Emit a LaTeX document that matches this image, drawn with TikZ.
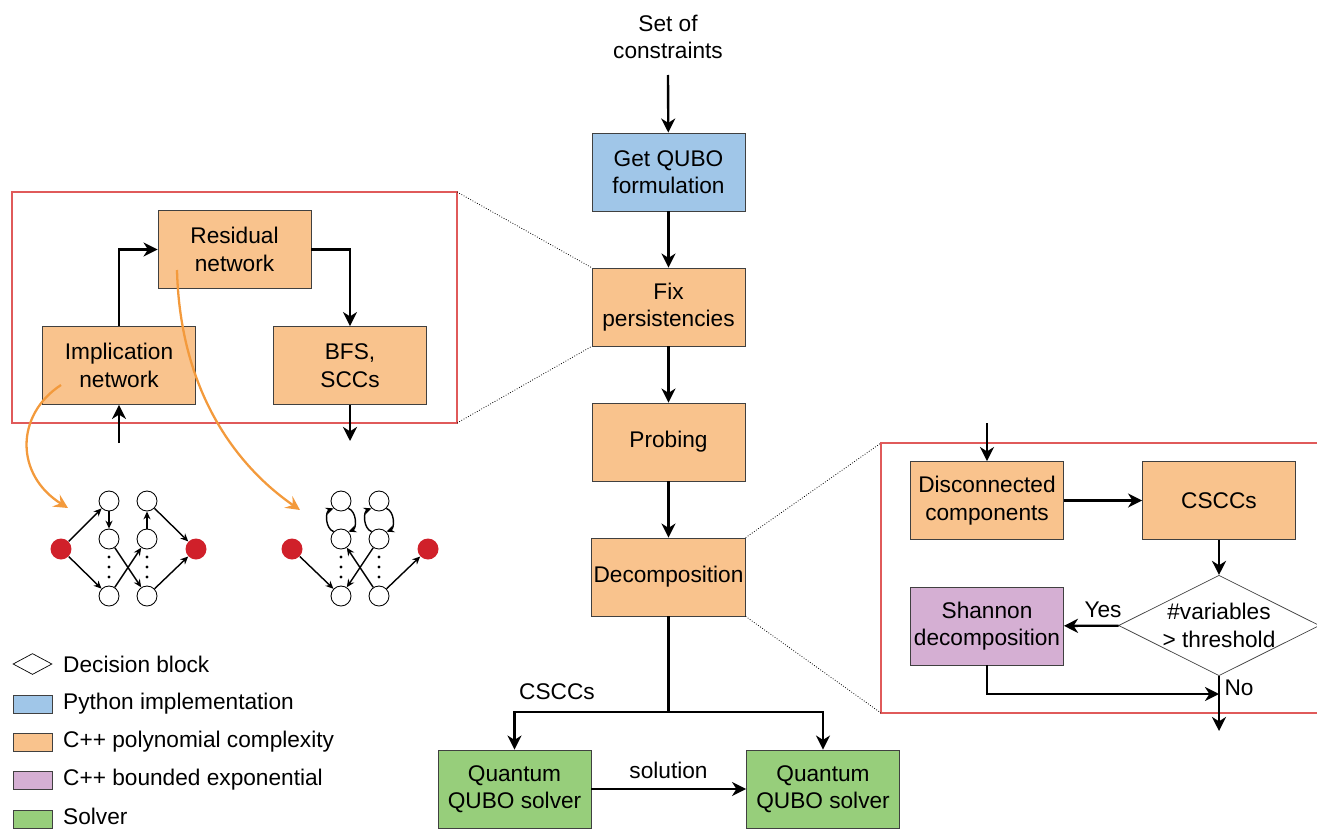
\documentclass[tikz,border=0pt]{standalone}
\usepackage{fontspec}
\setmainfont{Liberation Sans}
\usetikzlibrary{arrows.meta, positioning, shapes.geometric}

\definecolor{pyblue}{HTML}{A0C6E8}
\definecolor{cppoly}{HTML}{F9C38D}
\definecolor{cppexp}{HTML}{D5AFD3}
\definecolor{solvergreen}{HTML}{97CE7B}
\definecolor{frame}{HTML}{E05A5A}
\definecolor{linkorange}{HTML}{F39A3C}
\definecolor{vertred}{HTML}{D0202A}

\begin{document}
\begin{tikzpicture}[x=0.02cm, y=-0.02cm, font=\fontsize{12.9}{15.6}\selectfont]

  \useasboundingbox (0,0) rectangle (1317,828);

  % Define styles
  \tikzstyle{box} = [rectangle, draw=black!75, line width=0.5pt, minimum width=3.06cm, minimum height=1.56cm, align=center, inner sep=1pt]
  \tikzstyle{python} = [box, fill=pyblue]
  \tikzstyle{poly} = [box, fill=cppoly]
  \tikzstyle{bounded} = [box, fill=cppexp]
  \tikzstyle{solver} = [box, fill=solvergreen]
  \tikzstyle{decision} = [diamond, draw=black!75, aspect=2, minimum width=3.84cm, minimum height=1.9cm, inner sep=0pt, align=center]
  \tikzstyle{arr} = [draw, line width=1.35pt, -{Stealth[length=8pt, width=8pt, inset=2.5pt]}]
  \tikzstyle{zoomframe} = [draw=frame, line width=0.6pt]
  \tikzstyle{zoomline} = [draw, densely dotted, line width=0.45pt]
  \tikzstyle{link} = [draw=linkorange, line width=1.3pt, -{Stealth[length=8pt, width=8pt, inset=3pt]}]
  \tikzstyle{vert} = [circle, draw, fill=white, minimum size=0.4cm, inner sep=0pt, line width=0.5pt]
  \tikzstyle{term} = [circle, fill=vertred, minimum size=0.42cm, inner sep=0pt]
  \tikzstyle{gedge} = [draw, line width=0.8pt, -{Stealth[length=4.5pt, width=4pt]}]
  \tikzstyle{legbox} = [rectangle, draw=black!75, minimum width=0.78cm, minimum height=0.36cm, inner sep=0pt]

  % Main flow
  \node[align=center] (cons) at (668, 37) {Set of\\constraints};
  \coordinate (consout) at (668, 75);
  \node[python] (qubo) at (668.5, 172) {Get QUBO\\formulation};
  \node[poly] (fix) at (668.5, 307) {Fix\\persistencies};
  \node[poly] (probe) at (668.5, 442) {Probing};
  \node[poly] (decomp) at (668.5, 577) {Decomposition};
  \node[solver] (qsolA) at (514.5, 789) {Quantum\\QUBO solver};
  \node[solver] (qsolB) at (823, 789) {Quantum\\QUBO solver};

  \draw[arr] (consout) -- (qubo);
  \draw[arr] (qubo) -- (fix);
  \draw[arr] (fix) -- (probe);
  \draw[arr] (probe) -- (decomp);

  \coordinate (split) at (668.5, 712);
  \draw[line width=1.35pt] (decomp.south) -- (split);
  \draw[arr] (split) -| (qsolA.north);
  \draw[arr] (split) -| (qsolB.north);
  \node (csccs) at (557, 692) {CSCCs};

  \draw[arr] (qsolA) -- (qsolB);
  \node (sol) at (668.5, 770) {solution};

  % Persistency zoom
  \coordinate (pframeA) at (12, 192);
  \coordinate (pframeB) at (457, 423);
  \draw[zoomframe] (pframeA) rectangle (pframeB);
  \draw[zoomline] (pframeB |- pframeA) -- (fix.north west);
  \draw[zoomline] (pframeB) -- (fix.south west);

  \node[poly] (resid) at (234.5, 249.5) {Residual\\network};
  \node[poly] (impl) at (119, 365.5) {Implication\\network};
  \node[poly] (bfs) at (350, 365.5) {BFS,\\SCCs};

  \coordinate (implin) at (119, 443);
  \coordinate (bfsout) at (350, 441);
  \draw[arr] (implin) -- (impl);
  \draw[arr] (impl.north) |- (resid.west);
  \draw[arr] (resid.east) -| (bfs.north);
  \draw[arr] (bfs) -- (bfsout);

  % Implication network graph
  \node[term] (is) at (61, 549) {};
  \node[vert] (ia1) at (109, 501) {};
  \node[vert] (ia2) at (109, 539) {};
  \node[vert] (ia3) at (109, 596) {};
  \node[vert] (ib1) at (147, 501) {};
  \node[vert] (ib2) at (147, 539) {};
  \node[vert] (ib3) at (147, 596) {};
  \node[term] (it) at (196, 549) {};

  \draw[gedge] (is) -- (ia1);
  \draw[gedge] (is) -- (ia3);
  \draw[gedge] (ia1) -- (ia2);
  \draw[gedge] (ia2) -- (ib3);
  \draw[gedge] (ia3) -- (ib2);
  \draw[gedge] (ib2) -- (ib1);
  \draw[gedge] (ib1) -- (it);
  \draw[gedge] (ib3) -- (it);

  % Residual network graph
  \node[term] (rs) at (292, 549) {};
  \node[vert] (ra1) at (341, 501) {};
  \node[vert] (ra2) at (341, 539) {};
  \node[vert] (ra3) at (341, 596) {};
  \node[vert] (rb1) at (379, 501) {};
  \node[vert] (rb2) at (379, 539) {};
  \node[vert] (rb3) at (379, 596) {};
  \node[term] (rt) at (428, 549) {};

  \draw[gedge] (rs) -- (ra3);
  \draw[gedge] (ra2.north west) to[bend left=70] (ra1.south west);
  \draw[gedge] (ra1.south east) to[bend left=70] (ra2.north east);
  \draw[gedge] (rb2.north west) to[bend left=70] (rb1.south west);
  \draw[gedge] (rb1.south east) to[bend left=70] (rb2.north east);
  \draw[gedge] (rb3) -- (ra2);
  \draw[gedge] (rb2) -- (ra3);
  \draw[gedge] (rb3) -- (rt);

  % Dots
  \foreach \x in {109, 147, 341, 379}
    \foreach \y in {557, 567, 577}
      \fill (\x, \y) circle (0.9pt);

  % Links to graphs
  \coordinate (implpick) at (61, 385);
  \coordinate (implgraph) at (68, 508);
  \coordinate (residpick) at (177, 270);
  \coordinate (residgraph) at (300, 510);
  \draw[link] (implpick) .. controls (15, 415) and (15, 475) .. (implgraph);
  \draw[link] (residpick) .. controls (180, 390) and (235, 465) .. (residgraph);

  % Decomposition zoom
  \coordinate (dframeA) at (881, 443);
  \coordinate (dframeB) at (881, 713);
  \draw[zoomframe] (1320, 443) -- (dframeA) -- (dframeB) -- (1320, 713);
  \draw[zoomline] (decomp.north east) -- (dframeA);
  \draw[zoomline] (decomp.south east) -- (dframeB);

  \node[poly] (disc) at (987, 500.5) {Disconnected\\components};
  \node[poly] (cscc) at (1219, 500.5) {CSCCs};
  \node[decision] (thresh) at (1219, 625.5) {\#variables\\> threshold};
  \node[bounded] (shannon) at (987, 626) {Shannon\\decomposition};

  \coordinate (discin) at (987, 423);
  \coordinate (merge) at (1219, 694);
  \coordinate (decout) at (1219, 731);
  \draw[arr] (discin) -- (disc);
  \draw[arr] (disc) -- (cscc);
  \draw[arr] (cscc) -- (thresh);
  \draw[arr] (thresh) -- (shannon);
  \draw[arr] (shannon.south) |- (merge);
  \draw[arr] (thresh.south) -- (decout);
  \node (yes) at (1103, 610) {Yes};
  \node (no) at (1239, 688) {No};

  % Legend
  \node[diamond, draw=black, aspect=1.9, minimum width=0.78cm, minimum height=0.42cm, inner sep=0pt] (legdec) at (32.5, 664) {};
  \node[legbox, fill=pyblue] (legpy) at (32.5, 704) {};
  \node[legbox, fill=cppoly] (legpoly) at (32.5, 742) {};
  \node[legbox, fill=cppexp] (legexp) at (32.5, 780) {};
  \node[legbox, fill=solvergreen] (legsol) at (32.5, 819) {};
  \node[anchor=west] (legdect) at (57, 664) {Decision block};
  \node[anchor=west] (legpyt) at (57, 704) {Python implementation};
  \node[anchor=west] (legpolyt) at (57, 742) {C++ polynomial complexity};
  \node[anchor=west] (legexpt) at (57, 780) {C++ bounded exponential};
  \node[anchor=west] (legsolt) at (57, 816) {Solver};

\end{tikzpicture}
\end{document}
